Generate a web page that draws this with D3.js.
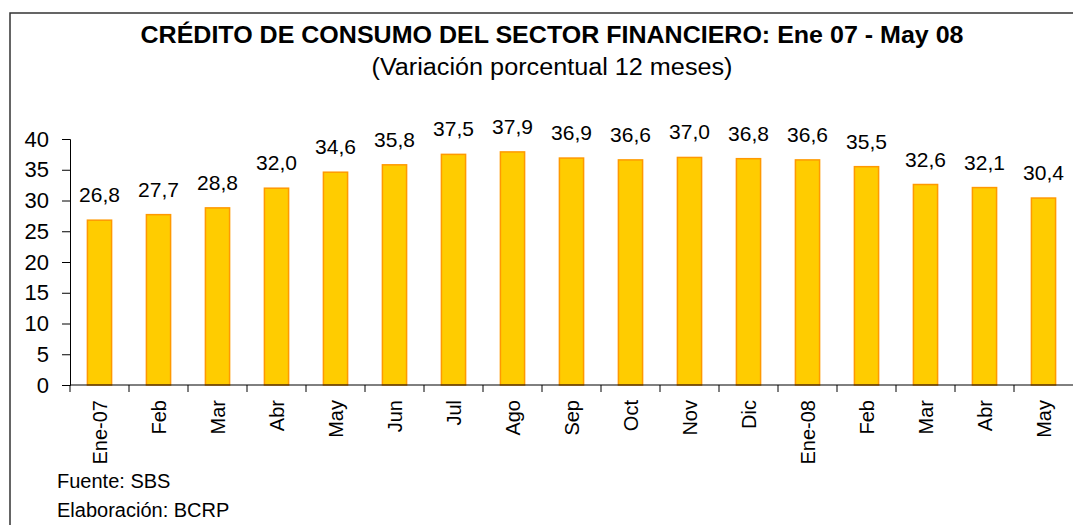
<!DOCTYPE html>
<html>
<head>
<meta charset="utf-8">
<script src="https://cdn.jsdelivr.net/npm/d3@7"></script>
<style>
  body { margin: 0; background: #fff; }
  text { font-family: Arial, "Liberation Sans", sans-serif; fill: #000; }
</style>
</head>
<body>
<svg id="chart"></svg>
<script>
// Data
var months = ["Ene-07", "Feb", "Mar", "Abr", "May", "Jun", "Jul", "Ago", "Sep",
              "Oct", "Nov", "Dic", "Ene-08", "Feb", "Mar", "Abr", "May"];
var variacion = [26.8, 27.7, 28.8, 32.0, 34.6, 35.8, 37.5, 37.9, 36.9,
                 36.6, 37.0, 36.8, 36.6, 35.5, 32.6, 32.1, 30.4];
var yTicks = [0, 5, 10, 15, 20, 25, 30, 35, 40];

var screen = { width: 1073, height: 525 };
var margins = { top: 139, bottom: 140, left: 70, right: 0 };

var drawChart = function(idName, screen, margins)
{
  var graphWidth = screen.width - margins.left - margins.right;
  var graphHeight = screen.height - margins.top - margins.bottom;

  var svg = d3.select(idName)
      .attr("width", screen.width)
      .attr("height", screen.height);

  // frame
  svg.append("path")
      .attr("d", "M10," + screen.height + "V13H" + screen.width)
      .attr("fill", "none")
      .attr("stroke", "#333")
      .attr("stroke-width", 1.5);

  // titles
  svg.append("text")
      .attr("x", 552).attr("y", 43)
      .attr("text-anchor", "middle")
      .attr("textLength", 823)
      .attr("lengthAdjust", "spacingAndGlyphs")
      .style("font-size", "23px")
      .style("font-weight", "bold")
      .text("CRÉDITO DE CONSUMO DEL SECTOR FINANCIERO: Ene 07 - May 08");

  svg.append("text")
      .attr("x", 552).attr("y", 75)
      .attr("text-anchor", "middle")
      .attr("textLength", 361)
      .attr("lengthAdjust", "spacingAndGlyphs")
      .style("font-size", "23px")
      .text("(Variación porcentual 12 meses)");

  var x = d3.scaleBand()
      .domain(d3.range(months.length))
      .range([0, graphWidth])
      .paddingInner(0.59)
      .paddingOuter(0.295);

  var y = d3.scaleLinear()
      .domain([0, 40])
      .range([graphHeight, 0]);

  var g = svg.append("g")
      .attr("transform", "translate(" + margins.left + "," + margins.top + ")");

  // bars
  g.selectAll("rect")
      .data(variacion)
      .join("rect")
        .attr("x", (d, i) => x(i))
        .attr("y", d => y(d))
        .attr("width", x.bandwidth())
        .attr("height", d => y(0) - y(d))
        .attr("fill", "#FFCC00")
        .attr("stroke", "#FF9900")
        .attr("stroke-width", 1.5);

  // value labels
  g.selectAll(".val")
      .data(variacion)
      .join("text")
        .attr("class", "val")
        .attr("x", (d, i) => x(i) + x.bandwidth() / 2)
        .attr("y", d => y(d) - 18)
        .attr("text-anchor", "middle")
        .style("font-size", "21px")
        .text(d => d.toFixed(1).replace(".", ","));

  // y axis
  var yAxis = d3.axisLeft(y)
      .tickValues(yTicks)
      .tickSize(8)
      .tickPadding(13);

  var ya = g.append("g").call(yAxis);
  ya.select(".domain").attr("stroke", "#000");
  ya.selectAll("line").attr("stroke", "#000");
  ya.selectAll("text")
      .style("font-size", "22px")
      .style("font-family", "Arial, 'Liberation Sans', sans-serif");

  // x axis with ticks at band edges
  var edge = d3.scaleLinear().domain([0, months.length]).range([0, graphWidth]);
  var xa = g.append("g").attr("transform", "translate(0," + graphHeight + ")");
  xa.append("line")
      .attr("x1", 0).attr("x2", graphWidth)
      .attr("stroke", "#000");
  xa.selectAll(".tk")
      .data(d3.range(months.length))
      .join("line")
        .attr("class", "tk")
        .attr("x1", d => edge(d)).attr("x2", d => edge(d))
        .attr("y1", 0).attr("y2", 7)
        .attr("stroke", "#000");
  xa.selectAll(".lbl")
      .data(months)
      .join("text")
        .attr("class", "lbl")
        .attr("transform", (d, i) => "translate(" + (x(i) + x.bandwidth() / 2) + ",15) rotate(-90)")
        .attr("text-anchor", "end")
        .attr("dy", "0.35em")
        .style("font-size", "20px")
        .text(d => d);

  // source notes
  svg.append("text")
      .attr("x", 57).attr("y", 488)
      .style("font-size", "20px")
      .text("Fuente: SBS");
  svg.append("text")
      .attr("x", 57).attr("y", 517)
      .style("font-size", "20px")
      .text("Elaboración: BCRP");
}

drawChart("#chart", screen, margins);
</script>
</body>
</html>
